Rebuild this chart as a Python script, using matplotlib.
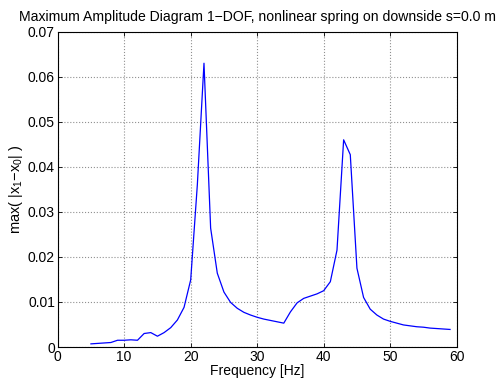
import numpy as np
import matplotlib
matplotlib.use('Agg')
import matplotlib.pyplot as plt

# Frequency steps [Hz] and the max amplitude
freq = list(range(5, 60))
amp = [0.0007, 0.0008, 0.0009, 0.0010, 0.0015, 0.0015, 0.0016, 0.0015, 0.0030, 0.0032,
       0.0024, 0.0032, 0.0043, 0.0060, 0.0088, 0.0149, 0.0360, 0.0630, 0.0264, 0.0164,
       0.0122, 0.0099, 0.0086, 0.0077, 0.0071, 0.0066, 0.0062, 0.0059, 0.0056, 0.0053,
       0.0078, 0.0098, 0.0108, 0.0113, 0.0118, 0.0125, 0.0145, 0.0215, 0.0460, 0.0427,
       0.0175, 0.0110, 0.0084, 0.0071, 0.0062, 0.0057, 0.0053, 0.0049, 0.0047, 0.0045,
       0.0044, 0.0042, 0.0041, 0.0040, 0.0039]

xticks = [0, 10, 20, 30, 40, 50, 60]
yticks = [0, 0.01, 0.02, 0.03, 0.04, 0.05, 0.06, 0.07]
ytick_labels = ['0', '0.01', '0.02', '0.03', '0.04', '0.05', '0.06', '0.07']

plt.rcParams['font.family'] = ['Liberation Sans', 'DejaVu Sans']
plt.rcParams['mathtext.default'] = 'regular'

fig = plt.figure(figsize=(4.99, 3.81), dpi=100)
ax = fig.add_axes([0.1156, 0.0892, 0.7996, 0.8276])

ax.plot(freq, amp, color='#0000ff', linewidth=0.9)

ax.set_xlim(0, 60)
ax.set_ylim(0, 0.07)
ax.set_xticks(xticks)
ax.set_yticks(yticks)
ax.set_yticklabels(ytick_labels)
ax.tick_params(direction='in', top=True, right=True, labelsize=10, length=3, width=0.6, pad=2)
ax.grid(True, linestyle=':', color='#909090', linewidth=0.8)
for s in ax.spines.values():
    s.set_linewidth(0.8)

ax.set_xlabel('Frequency [Hz]', fontsize=10, labelpad=0)
ax.set_ylabel('max( |x$_1$\u2212x$_0$| )', fontsize=10.5, labelpad=2)
ax.set_title('Maximum Amplitude Diagram 1\u2212DOF, nonlinear spring on downside s=0.0 m',
             fontsize=10.1, pad=8)

fig.savefig('out.png', dpi=100)
